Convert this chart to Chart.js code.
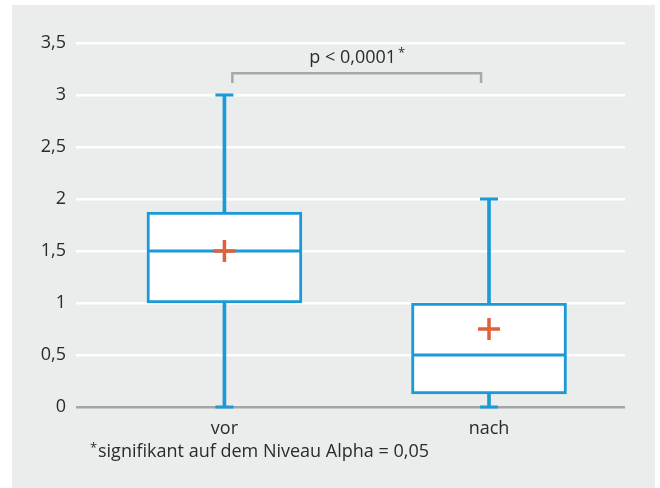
<!DOCTYPE html>
<html>
<head>
<meta charset="utf-8">
<script src="https://cdn.jsdelivr.net/npm/chart.js@4"></script>
<style>
    body { margin: 0; background: #ffffff; }
    #wrap { width: 660px; height: 488px; }
</style>
</head>
<body>
<div id="wrap"><canvas id="myChart"></canvas></div>
<script>
const categories = ['vor', 'nach'];
const xPositions = [1, 2];
const whiskerLow = [0, 0];
const quartile1 = [1, 0.125];
const medians = [1.5, 0.5];
const quartile3 = [1.875, 1];
const whiskerHigh = [3, 2];
const means = [1.5, 0.75];
const yTicks = [0, 0.5, 1, 1.5, 2, 2.5, 3, 3.5];
const pLabel = 'p < 0,0001';
const footnote = 'signifikant auf dem Niveau Alpha = 0,05';

const blue = '#1a9ad6';
const orange = '#e0603a';
const textColor = '#2b2b2b';
const fontFamily = '"Open Sans", sans-serif';

// gray panel behind everything
const panelPlugin = {
    id: 'panel',
    beforeDraw(chart) {
        const ctx = chart.ctx;
        ctx.save();
        ctx.fillStyle = '#ebecec';
        ctx.fillRect(12, 5, 643, 483);
        ctx.restore();
    }
};

// significance bracket and footnote
const notesPlugin = {
    id: 'notes',
    afterDatasetsDraw(chart) {
        const ctx = chart.ctx;
        const x = chart.scales.x;
        const y = chart.scales.y;
        const x1 = x.getPixelForValue(1.03);
        const x2 = x.getPixelForValue(1.97);
        const yTop = y.getPixelForValue(3.21);
        const yBot = y.getPixelForValue(3.115);
        ctx.save();
        ctx.strokeStyle = '#a6a8aa';
        ctx.lineWidth = 2.5;
        ctx.beginPath();
        ctx.moveTo(x1, yBot);
        ctx.lineTo(x1, yTop);
        ctx.lineTo(x2, yTop);
        ctx.lineTo(x2, yBot);
        ctx.stroke();

        ctx.fillStyle = textColor;
        ctx.font = '18px ' + fontFamily;
        ctx.textBaseline = 'alphabetic';
        ctx.textAlign = 'left';
        const w = ctx.measureText(pLabel).width;
        const cx = (x1 + x2) / 2;
        ctx.fillText(pLabel, cx - w / 2 - 4, yTop - 10);
        ctx.font = '13px ' + fontFamily;
        ctx.fillText('*', cx + w / 2 - 2, yTop - 16);

        ctx.fillText('*', 90, 452);
        ctx.font = '18px ' + fontFamily;
        ctx.fillText(footnote, 98, 457);
        ctx.restore();
    }
};

const data = {
    datasets: [
        {
            type: 'scatter',
            label: 'Mittelwert',
            data: xPositions.map((x, i) => ({ x: x, y: means[i] })),
            pointStyle: 'cross',
            radius: 11,
            borderWidth: 3.5,
            borderColor: orange,
            clip: false,
            order: 1
        },
        {
            type: 'scatter',
            label: 'Median',
            data: xPositions.map((x, i) => ({ x: x, y: medians[i] })),
            pointStyle: 'line',
            radius: 76,
            borderWidth: 3,
            borderColor: blue,
            clip: false,
            order: 2
        },
        {
            type: 'scatter',
            label: 'Whisker-Enden',
            data: xPositions.map((x, i) => ({ x: x, y: whiskerLow[i] }))
                .concat(xPositions.map((x, i) => ({ x: x, y: whiskerHigh[i] }))),
            pointStyle: 'line',
            radius: 9,
            borderWidth: 3,
            borderColor: blue,
            clip: false,
            order: 3
        },
        {
            type: 'bar',
            label: 'Box',
            data: xPositions.map((x, i) => ({ x: x, y: [quartile1[i], quartile3[i]] })),
            backgroundColor: '#ffffff',
            borderColor: blue,
            borderWidth: 3,
            borderSkipped: false,
            barThickness: 155,
            grouped: false,
            order: 4
        },
        {
            type: 'bar',
            label: 'Whisker oben',
            data: xPositions.map((x, i) => ({ x: x, y: [quartile3[i], whiskerHigh[i]] })),
            backgroundColor: blue,
            borderWidth: 0,
            barThickness: 3,
            grouped: false,
            order: 5
        },
        {
            type: 'bar',
            label: 'Whisker unten',
            data: xPositions.map((x, i) => ({ x: x, y: [whiskerLow[i], quartile1[i]] })),
            backgroundColor: blue,
            borderWidth: 0,
            barThickness: 3,
            grouped: false,
            order: 6
        }
    ]
};

const config = {
    type: 'bar',
    data: data,
    options: {
        responsive: true,
        maintainAspectRatio: false,
        animation: false,
        events: [],
        layout: {
            autoPadding: false,
            padding: { left: 0, right: 35, top: 43, bottom: 0 }
        },
        plugins: {
            legend: { display: false },
            tooltip: { enabled: false }
        },
        scales: {
            x: {
                type: 'linear',
                offset: false,
                min: 0.439,
                max: 2.514,
                afterBuildTicks: (scale) => {
                    scale.ticks = xPositions.map(v => ({ value: v }));
                },
                afterFit: (scale) => { scale.height = 81; },
                grid: { display: false, offset: false },
                border: { display: false },
                ticks: {
                    padding: 3,
                    color: textColor,
                    font: { family: '"Open Sans", sans-serif', size: 18 },
                    callback: (value) => categories[xPositions.indexOf(value)] || ''
                }
            },
            y: {
                min: 0,
                max: 3.5,
                afterBuildTicks: (scale) => {
                    scale.ticks = yTicks.map(v => ({ value: v }));
                },
                afterFit: (scale) => { scale.width = 76; },
                border: { display: false },
                grid: {
                    drawTicks: false,
                    lineWidth: 2.5,
                    color: (ctx) => ctx.tick && ctx.tick.value === 0 ? '#a3a5a7' : '#ffffff'
                },
                ticks: {
                    padding: 10,
                    color: textColor,
                    font: { family: '"Open Sans", sans-serif', size: 18 },
                    callback: (value) => String(value).replace('.', ',')
                }
            }
        }
    },
    plugins: [panelPlugin, notesPlugin]
};

var myChart = new Chart(document.getElementById('myChart'), config);
</script>
</body>
</html>
